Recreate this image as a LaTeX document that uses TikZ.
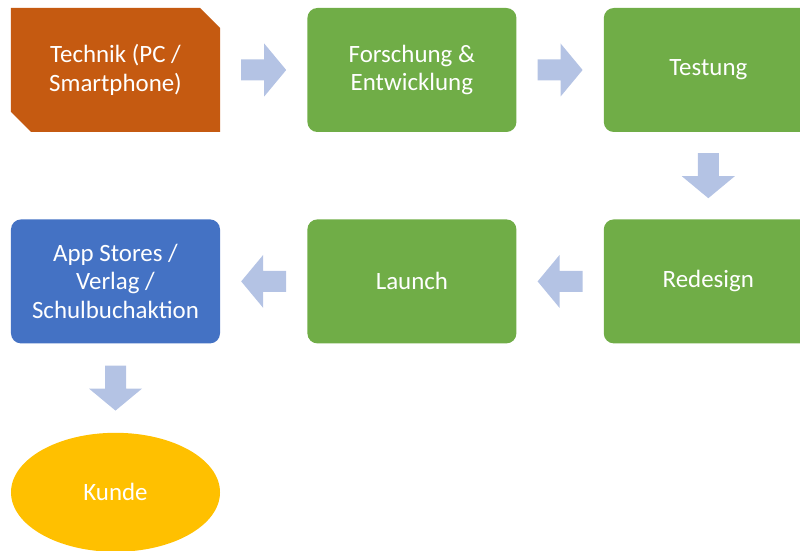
\documentclass[tikz,border=0pt]{standalone}
\usepackage{fontspec}
\setmainfont{Carlito}
\usetikzlibrary{positioning,shapes.geometric,shapes.misc,calc}

\definecolor{techorange}{HTML}{C55A11}
\definecolor{stagegreen}{HTML}{70AD47}
\definecolor{storeblue}{HTML}{4472C4}
\definecolor{kundegold}{HTML}{FFC000}
\definecolor{arrowblue}{HTML}{B4C3E4}

\tikzset{
  card/.style={text=white, align=center, minimum width=209bp, minimum height=124bp,
    inner sep=0pt, font=\fontsize{25}{29}\selectfont},
  stage/.style={card, rectangle, rounded corners=10bp, fill=stagegreen},
  barrow/.pic={
    \fill[arrowblue] (-22.5,-10.5) -- (0.5,-10.5) -- (0.5,-26.5) -- (22.5,0)
      -- (0.5,26.5) -- (0.5,10.5) -- (-22.5,10.5) -- cycle;
  }
}

\begin{document}
\begin{tikzpicture}[x=1bp,y=1bp,node distance=87bp and 87bp]
\clip (0,0) rectangle (800,-551);
% top row
\node[card, chamfered rectangle, chamfered rectangle xsep=10bp, chamfered rectangle ysep=10bp,
  chamfered rectangle corners={north east,south west}, fill=techorange] (technik) at (115.5,-70)
  {Technik (PC /\\Smartphone)};
\node[stage, right=of technik] (forschung) {Forschung \&\\Entwicklung};
\node[stage, right=of forschung] (testung) {Testung};
% second row
\node[stage, below=of testung] (redesign) {Redesign};
\node[stage, left=of redesign] (launch) {Launch};
\node[stage, left=of launch, fill=storeblue] (stores) {App Stores /\\Verlag /\\Schulbuchaktion};
% customer
\node[card, ellipse, minimum height=119bp, fill=kundegold, below=89bp of stores] (kunde) {Kunde};
% block arrows
\pic at ($(technik.east)!0.5!(forschung.west)$) {barrow};
\pic at ($(forschung.east)!0.5!(testung.west)$) {barrow};
\pic[rotate=-90] at ($(testung.south)!0.5!(redesign.north)$) {barrow};
\pic[rotate=180] at ($(redesign.west)!0.5!(launch.east)$) {barrow};
\pic[rotate=180] at ($(launch.west)!0.5!(stores.east)$) {barrow};
\pic[rotate=-90] at ($(stores.south)!0.5!(kunde.north)$) {barrow};
\end{tikzpicture}
\end{document}
